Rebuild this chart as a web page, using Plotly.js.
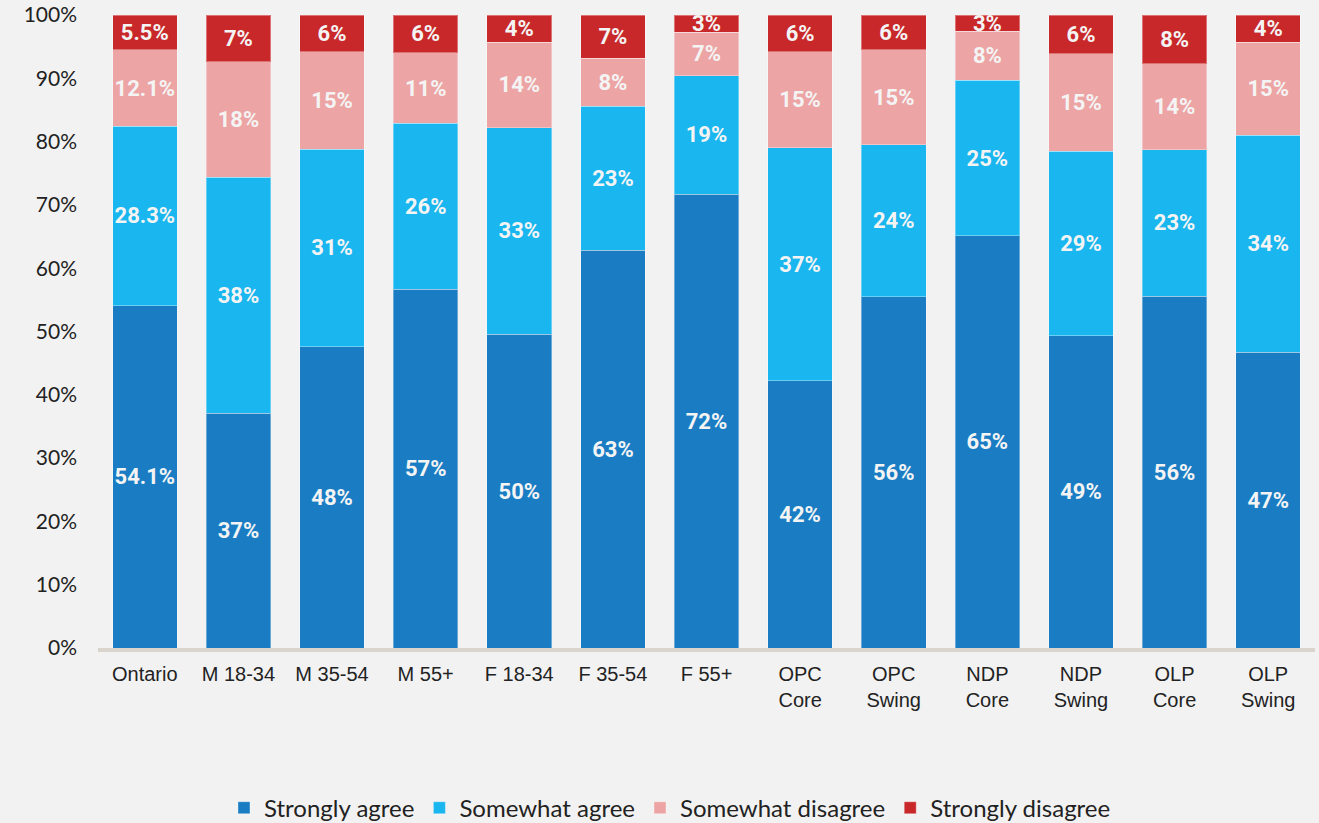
<!DOCTYPE html>
<html>
<head>
<meta charset="utf-8">
<script src="https://cdn.plot.ly/plotly-3.0.1.min.js"></script>
<style>html,body{margin:0;padding:0;background:#f2f2f2;}#chart{width:1319px;height:823px;}</style>
</head>
<body>
<div id="chart"></div>
<script>
var categories = ["Ontario","M 18-34","M 35-54","M 55+","F 18-34","F 35-54","F 55+","OPC<br>Core","OPC<br>Swing","NDP<br>Core","NDP<br>Swing","OLP<br>Core","OLP<br>Swing"];
var stronglyAgree    = [54.1, 37.1, 47.6, 56.7, 49.6, 62.8, 71.7, 42.2, 55.5, 65.1, 49.3, 55.6, 46.7];
var somewhatAgree    = [28.3, 37.3, 31.2, 26.2, 32.6, 22.8, 18.7, 36.8, 24.0, 24.6, 29.2, 23.1, 34.3];
var somewhatDisagree = [12.1, 18.2, 15.4, 11.1, 13.5,  7.6,  6.9, 15.2, 15.0,  7.7, 15.4, 13.6, 14.7];
var stronglyDisagree = [ 5.5,  7.4,  5.8,  6.0,  4.3,  6.8,  2.7,  5.8,  5.5,  2.6,  6.1,  7.7,  4.3];
var labelsSA  = ["54.1%","37%","48%","57%","50%","63%","72%","42%","56%","65%","49%","56%","47%"];
var labelsSWA = ["28.3%","38%","31%","26%","33%","23%","19%","37%","24%","25%","29%","23%","34%"];
var labelsSWD = ["12.1%","18%","15%","11%","14%","8%","7%","15%","15%","8%","15%","14%","15%"];
var labelsSD  = ["5.5%","7%","6%","6%","4%","7%","3%","6%","6%","3%","6%","8%","4%"];
var seriesNames = ["Strongly agree","Somewhat agree","Somewhat disagree","Strongly disagree"];
var colors = ["#1a7dc4","#19b6ef","#eca4a5","#c9282a"];
var values = [stronglyAgree, somewhatAgree, somewhatDisagree, stronglyDisagree];
var labels = [labelsSA, labelsSWA, labelsSWD, labelsSD];

var traces = values.map(function(v, i){
  return {
    type: 'bar',
    name: seriesNames[i],
    x: categories,
    y: v,
    text: labels[i],
    texttemplate: '%{text}',
    textposition: 'inside',
    insidetextanchor: 'middle',
    constraintext: 'none',
    textangle: 0,
    cliponaxis: true,
    textfont: {family: 'Roboto', size: 22, color: '#f4f4f4', weight: 'bold'},
    marker: {color: colors[i], line: {color: 'rgba(255,255,255,0.35)', width: 1}},
    hoverinfo: 'x+y+name'
  };
});

var layout = {
  width: 1319, height: 823,
  barmode: 'stack',
  bargap: 0.31,
  paper_bgcolor: '#f2f2f2',
  plot_bgcolor: '#f2f2f2',
  margin: {l: 98, r: 4, t: 15, b: 175, autoexpand: false},
  showlegend: true,
  legend: {
    orientation: 'h', x: 0.47, xanchor: 'center', y: -0.253, yanchor: 'middle',
    font: {family: 'Lato', size: 24, color: '#222'},
    traceorder: 'normal', itemwidth: 30, tracegroupgap: 0
  },
  xaxis: {
    type: 'category',
    tickfont: {family: 'Liberation Sans', size: 20, color: '#222'},
    showline: true, linecolor: '#d9d5cc', linewidth: 4,
    ticks: '', showgrid: false, zeroline: false,
    ticklabelstandoff: 5,
    automargin: false
  },
  yaxis: {
    range: [0, 100],
    dtick: 10,
    ticksuffix: '%',
    tickfont: {family: 'Lato', size: 21, color: '#222'},
    showgrid: false, zeroline: false, showline: false,
    ticks: '', ticklen: 0,
    ticklabelstandoff: 20,
    automargin: false
  }
};

Plotly.newPlot('chart', traces, layout, {displayModeBar: false, staticPlot: true});
</script>
</body>
</html>
